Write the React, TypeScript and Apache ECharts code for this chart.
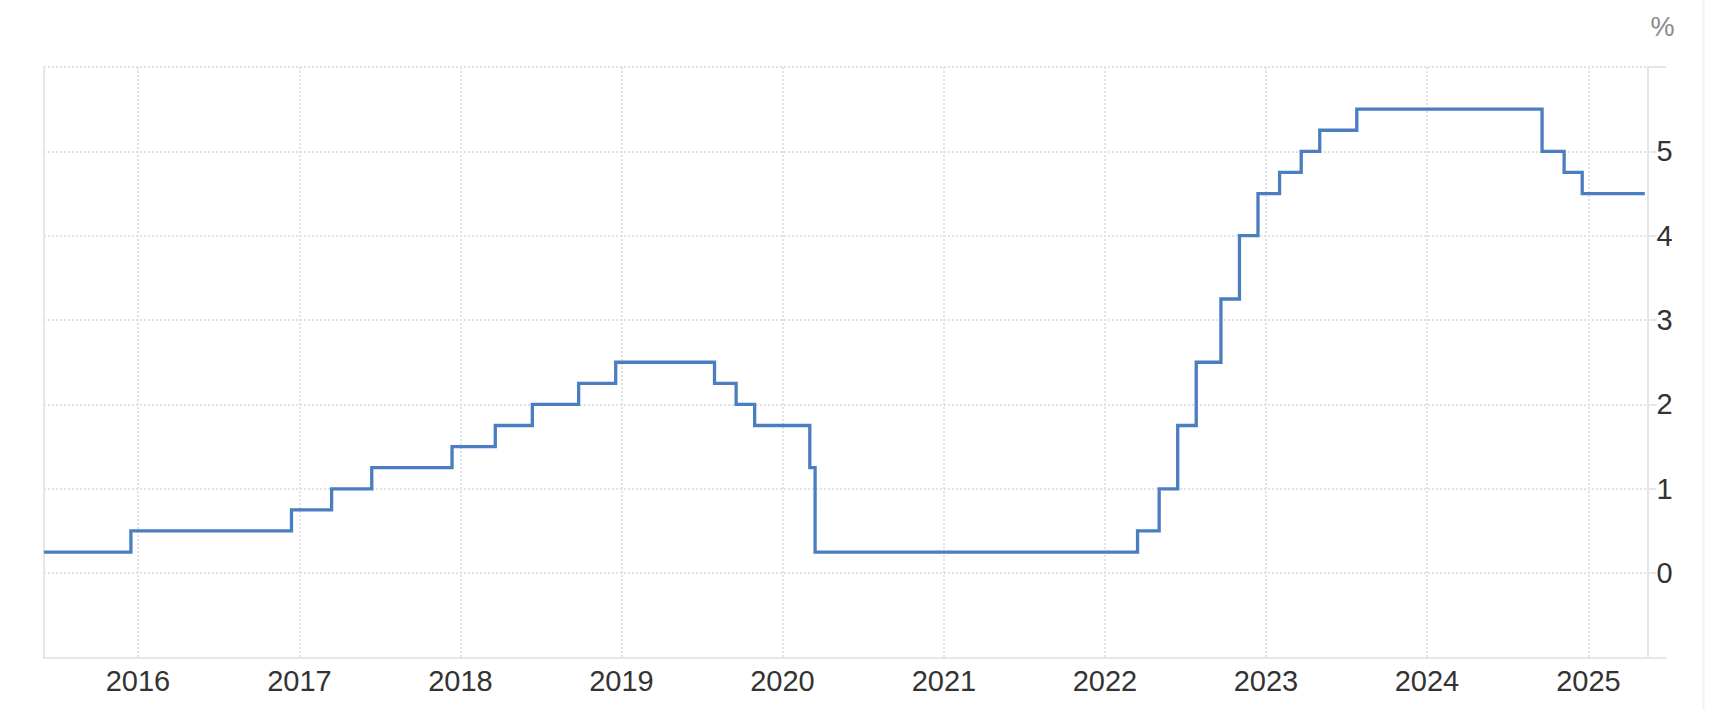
import React, { useEffect, useRef } from "react";
import * as echarts from "echarts";

// Policy rate (upper bound, %) — value holds from each date until the next one
const changeDates = [
  "2015-06-02",
  "2015-12-16",
  "2016-12-14",
  "2017-03-15",
  "2017-06-14",
  "2017-12-13",
  "2018-03-21",
  "2018-06-13",
  "2018-09-26",
  "2018-12-19",
  "2019-07-31",
  "2019-09-18",
  "2019-10-30",
  "2020-03-03",
  "2020-03-15",
  "2022-03-16",
  "2022-05-04",
  "2022-06-15",
  "2022-07-27",
  "2022-09-21",
  "2022-11-02",
  "2022-12-14",
  "2023-02-01",
  "2023-03-22",
  "2023-05-03",
  "2023-07-26",
  "2024-09-18",
  "2024-11-07",
  "2024-12-18",
  "2025-05-09",
];
const rateValues = [
  0.25, 0.5, 0.75, 1.0, 1.25, 1.5, 1.75, 2.0, 2.25, 2.5, 2.25, 2.0, 1.75, 1.25,
  0.25, 0.5, 1.0, 1.75, 2.5, 3.25, 4.0, 4.5, 4.75, 5.0, 5.25, 5.5, 5.0, 4.75,
  4.5, 4.5,
];
const xRange = ["2015-06-02", "2025-05-15"];
const yTickLabels = ["0", "1", "2", "3", "4", "5"];
const unitLabel = "%";

const FONT = "'Liberation Sans', Arial, Helvetica, sans-serif";

export default function App() {
  const ref = useRef<HTMLDivElement>(null);

  useEffect(() => {
    if (!ref.current) return;
    const chart = echarts.init(ref.current, undefined, { renderer: "svg" });
    const data = changeDates.map((d, i) => [d, rateValues[i]]);
    chart.setOption({
      animation: false,
      backgroundColor: "#ffffff",
      grid: { left: 44, right: 68.5, top: 67, bottom: 52.5, containLabel: false },
      xAxis: {
        type: "time",
        min: xRange[0],
        max: xRange[1],
        minInterval: 365 * 86400000,
        maxInterval: 366 * 86400000,
        axisLine: {
          show: true,
          onZero: false,
          lineStyle: { color: "#e6e6e6", width: 2 },
        },
        axisTick: { show: false },
        axisLabel: {
          formatter: "{yyyy}",
          color: "#333333",
          fontSize: 29,
          fontFamily: FONT,
          margin: 9,
          showMinLabel: false,
          showMaxLabel: false,
        },
        splitLine: {
          show: true,
          lineStyle: { color: "#e2e2e2", width: 2, type: [2, 2] },
        },
      },
      yAxis: [
        {
          type: "value",
          position: "right",
          min: -1,
          max: 6,
          interval: 1,
          axisLine: { show: true, lineStyle: { color: "#e6e6e6", width: 2 } },
          axisTick: {
            show: true,
            length: 19,
            lineStyle: { color: "#e6e6e6", width: 2 },
          },
          axisLabel: {
            formatter: (v: number) => {
              const s = String(v);
              return yTickLabels.includes(s) ? s : "";
            },
            color: "#333333",
            fontSize: 29,
            fontFamily: FONT,
            margin: 9,
            padding: [0, 0, 5, 0],
            backgroundColor: "#ffffff",
          },
          splitLine: {
            show: true,
            lineStyle: { color: "#e2e2e2", width: 2, type: [2, 2] },
          },
        },
        {
          type: "value",
          position: "left",
          min: -1,
          max: 6,
          interval: 1,
          axisLine: { show: true, lineStyle: { color: "#e6e6e6", width: 2 } },
          axisTick: { show: false },
          axisLabel: { show: false },
          splitLine: { show: false },
        },
      ],
      series: [
        {
          type: "line",
          step: "end",
          yAxisIndex: 0,
          data,
          showSymbol: false,
          symbol: "none",
          clip: true,
          lineStyle: { color: "#4a7ec0", width: 3.3, join: "miter", cap: "butt" },
        },
      ],
      graphic: [
        {
          type: "rect",
          shape: { x: 1702.5, y: 0, width: 2, height: 710 },
          style: { fill: "#f2f2f2" },
          silent: true,
        },
        {
          type: "text",
          style: {
            text: unitLabel,
            x: 1662.5,
            y: 27,
            align: "center",
            verticalAlign: "middle",
            fontSize: 27,
            fontFamily: FONT,
            fill: "#8a8a8a",
          },
          silent: true,
        },
      ],
    });
    return () => chart.dispose();
  }, []);

  return (
    <div
      ref={ref}
      style={{ position: "fixed", left: 0, top: 0, width: 1716, height: 710 }}
    />
  );
}
